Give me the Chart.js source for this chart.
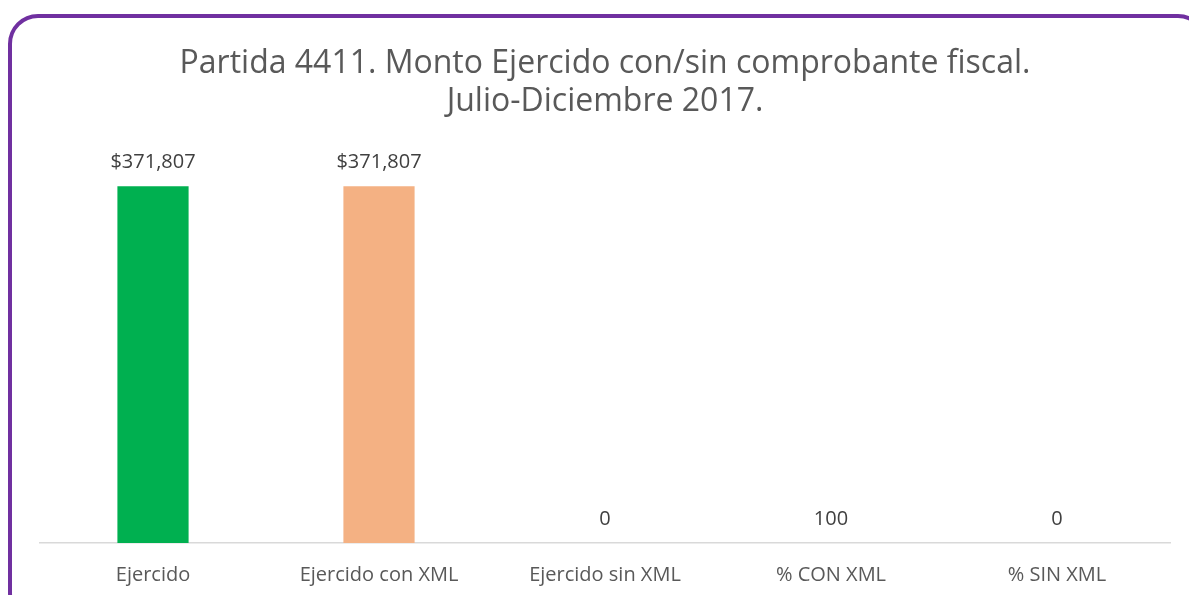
<!DOCTYPE html>
<html>
<head>
<meta charset="utf-8">
<script src="https://cdn.jsdelivr.net/npm/chart.js@4.4.0/dist/chart.umd.min.js"></script>
<style>
  html, body { margin: 0; padding: 0; background: #fff; overflow: hidden; }
  #frame {
    position: absolute; left: 8px; top: 14px; width: 1200px; height: 610px;
    border: 4px solid #7030A0; border-radius: 30px; box-sizing: border-box;
  }
  #wrap { position: absolute; left: 0; top: 0; width: 1189px; height: 595px; }
</style>
</head>
<body>
<div id="frame"></div>
<div id="wrap"><canvas id="chart"></canvas></div>
<script>
// chart data
const categories = ['Ejercido', 'Ejercido con XML', 'Ejercido sin XML', '% CON XML', '% SIN XML'];
const values = [371807, 371807, 0, 100, 0];
const valueLabels = ['$371,807', '$371,807', '0', '100', '0'];
const barColors = ['#00B050', '#F4B183', '#4472C4', '#A5A5A5', '#FFC000'];
const titleLines = ['Partida 4411. Monto Ejercido con/sin comprobante fiscal.', 'Julio-Diciembre 2017.'];

const FONT = "'Open Sans', sans-serif";

// draws value labels above each bar
const barLabels = {
  id: 'barLabels',
  afterDatasetsDraw(chart) {
    const ctx = chart.ctx;
    const meta = chart.getDatasetMeta(0);
    ctx.save();
    ctx.font = '20px ' + FONT;
    ctx.fillStyle = '#404040';
    ctx.textAlign = 'center';
    ctx.textBaseline = 'middle';
    meta.data.forEach((bar, i) => {
      ctx.fillText(valueLabels[i], bar.x, bar.y - 24);
    });
    ctx.restore();
  }
};

new Chart(document.getElementById('chart'), {
  type: 'bar',
  data: {
    labels: categories,
    datasets: [{
      data: values,
      backgroundColor: barColors,
      barPercentage: 0.63,
      categoryPercentage: 0.5
    }]
  },
  options: {
    responsive: true,
    maintainAspectRatio: false,
    animation: false,
    layout: { padding: { left: 40, right: 19, top: 0, bottom: -12 } },
    plugins: {
      legend: { display: false },
      tooltip: { enabled: false },
      title: {
        display: true,
        text: titleLines,
        color: '#595959',
        font: { family: FONT, size: 32, weight: 'normal', lineHeight: 1.19 },
        padding: { top: 45, bottom: 38 }
      }
    },
    scales: {
      x: {
        grid: { display: false, drawTicks: false },
        border: { display: true, color: '#D9D9D9', width: 1.5 },
        ticks: { color: '#595959', font: { family: FONT, size: 20 }, padding: 20 }
      },
      y: {
        display: false,
        min: 0,
        max: 400000
      }
    }
  },
  plugins: [barLabels]
});
</script>
</body>
</html>
